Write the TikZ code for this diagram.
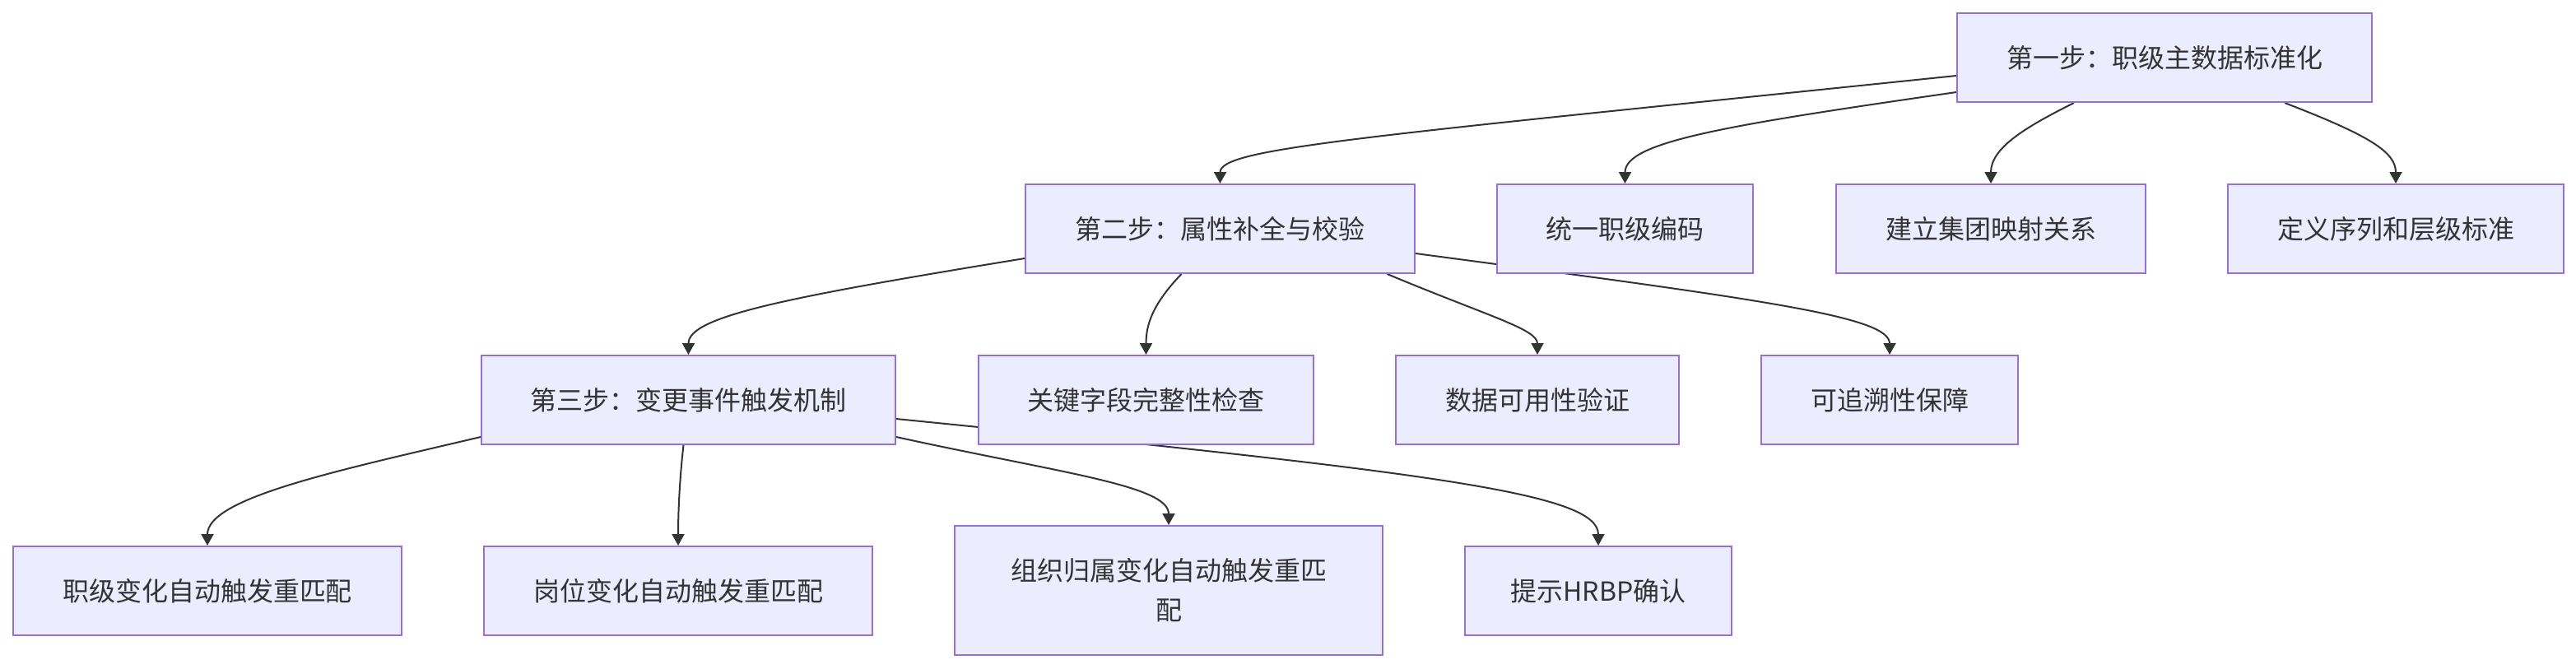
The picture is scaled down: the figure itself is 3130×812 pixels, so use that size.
\documentclass[tikz,border=0pt]{standalone}
\usepackage{fontspec}
\setmainfont{Noto Sans CJK SC}
\usetikzlibrary{arrows.meta,calc}
\definecolor{nodefill}{HTML}{ECECFF}
\definecolor{nodeborder}{HTML}{9370DB}
\definecolor{txt}{HTML}{333333}
\pgfdeclarelayer{bg}
\pgfsetlayers{bg,main}
\begin{document}
\begin{tikzpicture}[x=1pt,y=-1pt,
 box/.style={draw=nodeborder, fill=nodefill, line width=2pt, inner sep=0pt, text=txt,
   font=\fontsize{32}{48}\selectfont, align=center, minimum height=108pt},
 edge/.style={draw=txt, line width=2pt, -{Triangle[length=14pt,width=15pt]}}]
\useasboundingbox (0,0) rectangle (3130,812);
% row 1
\node[box, minimum width=504pt] (s1) at (2630,70) {第一步：职级主数据标准化};
% row 2
\node[box, minimum width=473pt] (s2) at (1482.5,278) {第二步：属性补全与校验};
\node[box, minimum width=311pt] (a1) at (1974.5,278) {统一职级编码};
\node[box, minimum width=376pt] (a2) at (2419,278) {建立集团映射关系};
\node[box, minimum width=408pt] (a3) at (2911,278) {定义序列和层级标准};
% row 3
\node[box, minimum width=503pt] (s3) at (836.5,486) {第三步：变更事件触发机制};
\node[box, minimum width=407pt] (b1) at (1392.5,486) {关键字段完整性检查};
\node[box, minimum width=344pt] (b2) at (1868,486) {数据可用性验证};
\node[box, minimum width=312pt] (b3) at (2296,486) {可追溯性保障};
% row 4
\node[box, minimum width=472pt] (c1) at (252,718) {职级变化自动触发重匹配};
\node[box, minimum width=472pt] (c2) at (824,718) {岗位变化自动触发重匹配};
\node[box, minimum width=520pt, minimum height=157pt] (c3) at (1420,717.5) {组织归属变化自动触发重匹\\配};
\node[box, minimum width=324pt] (c4) at (1942,718) {提示HRBP确认};
\begin{pgfonlayer}{bg}
\draw[edge] ($(s1.west)+(0,22)$) .. controls (1650,167) and (1482.5,180) .. (s2.north);
\draw[edge] ($(s1.west)+(0,42)$) .. controls (2100,152) and (1974.5,172) .. (a1.north);
\draw[edge] ($(s1.south)+(-110,0)$) .. controls (2460,155) and (2419,180) .. (a2.north);
\draw[edge] ($(s1.south)+(146,0)$) .. controls (2880,165) and (2911,185) .. (a3.north);
\draw[edge] ($(s2.west)+(0,36)$) .. controls (950,362) and (836.5,385) .. (s3.north);
\draw[edge] ($(s2.south)+(-47,0)$) .. controls (1400,370) and (1392.5,395) .. (b1.north);
\draw[edge] ($(s2.south)+(203,0)$) .. controls (1810,385) and (1868,400) .. (b2.north);
\draw[edge] ($(s2.east)+(0,30)$) .. controls (2150,365) and (2296,385) .. (b3.north);
\draw[edge] ($(s3.west)+(0,45)$) .. controls (410,572) and (252,605) .. (c1.north);
\draw[edge] ($(s3.south)+(-6,0)$) .. controls (826,580) and (824,620) .. (c2.north);
\draw[edge] ($(s3.east)+(0,45)$) .. controls (1290,575) and (1420,590) .. (c3.north);
\draw[edge] ($(s3.east)+(0,23)$) .. controls (1750,575) and (1942,600) .. (c4.north);
\end{pgfonlayer}
\end{tikzpicture}
\end{document}
